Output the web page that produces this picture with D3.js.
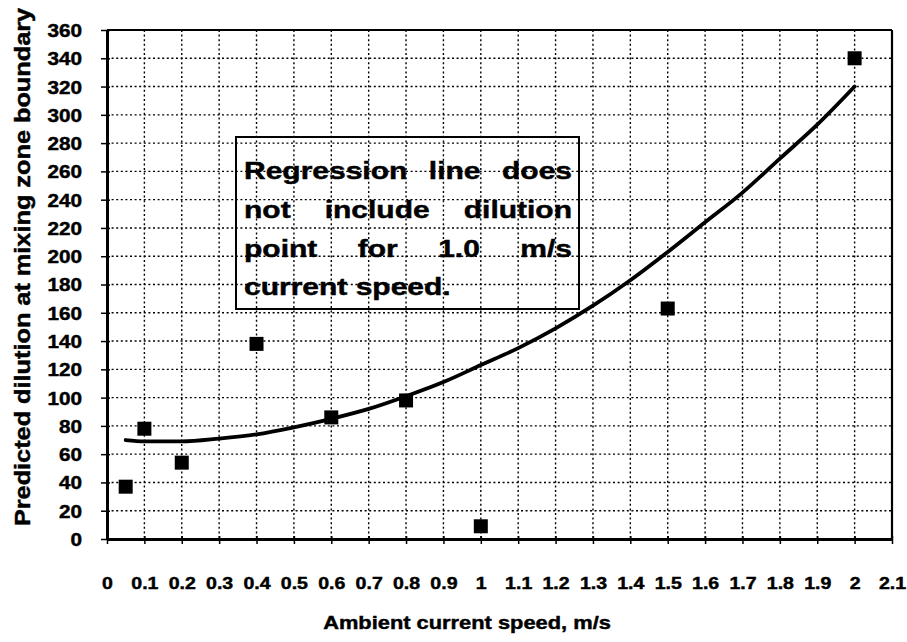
<!DOCTYPE html>
<html lang="en">
<head>
<meta charset="utf-8">
<style type="text/css">
    body { margin: 0; background: #fff; }
    svg { font-family: "Liberation Sans", Arial, sans-serif; font-weight: bold; }
    svg text { fill: #000; stroke: #000; stroke-width: 0.45px; }
    .grid line { stroke: #000; stroke-width: 1.4px; stroke-dasharray: 2,2.6; }
    .axis path, .axis line { stroke: #000; }
    .axis text { font-weight: bold; font-family: "Liberation Sans", Arial, sans-serif; }
</style>
</head>
<body>
<svg width="907" height="642"></svg>
<script src="https://d3js.org/d3.v7.min.js"></script>
<script type="text/javascript">

// ticks
var xTicks = [0, 0.1, 0.2, 0.3, 0.4, 0.5, 0.6, 0.7, 0.8, 0.9, 1, 1.1, 1.2, 1.3, 1.4, 1.5, 1.6, 1.7, 1.8, 1.9, 2, 2.1];
var yTicks = [0, 20, 40, 60, 80, 100, 120, 140, 160, 180, 200, 220, 240, 260, 280, 300, 320, 340, 360];

// measured points (speed, dilution)
var speeds    = [0.05, 0.1, 0.2, 0.4, 0.6, 0.8, 1.0, 1.5, 2.0];
var dilutions = [37, 78, 54, 138, 86, 98, 9, 163, 340];

// regression line
var lineX = [0.05, 0.1, 0.2, 0.3, 0.4, 0.5, 0.6, 0.7, 0.8, 0.9, 1.0, 1.1, 1.2, 1.3, 1.4, 1.5, 1.6, 1.7, 1.8, 1.9, 2.0];
var lineY = [70, 69, 69, 71, 74, 79, 85, 92, 101, 111, 123, 135, 149, 165, 183, 203, 224, 245, 269, 293, 320];

var noteLines = [
    ["Regression", "line", "does"],
    ["not", "include", "dilution"],
    ["point", "for", "1.0", "m/s"],
    ["current", "speed."]
];

var svg = d3.select("svg");
var mLeft = 107, mRight = 892, mTop = 30, mBottom = 539;
var sx = 1.15; // scanned type is a bit wide

var x = d3.scaleLinear().domain([0, 2.1]).range([mLeft, mRight]);
var y = d3.scaleLinear().domain([0, 360]).range([mBottom, mTop]);

// dotted grid
svg.append("g").attr("class", "grid")
    .selectAll("line").data(xTicks.slice(1, -1)).enter().append("line")
    .attr("x1", function (d) { return x(d); }).attr("x2", function (d) { return x(d); })
    .attr("y1", mTop).attr("y2", mBottom);
svg.append("g").attr("class", "grid")
    .selectAll("line").data(yTicks.slice(1, -1)).enter().append("line")
    .attr("x1", mLeft).attr("x2", mRight)
    .attr("y1", function (d) { return y(d); }).attr("y2", function (d) { return y(d); });

// frame top / right
svg.append("line").attr("x1", mLeft).attr("x2", mRight).attr("y1", mTop).attr("y2", mTop)
    .attr("stroke", "#000").attr("stroke-width", 2.2);
svg.append("line").attr("x1", mRight).attr("x2", mRight).attr("y1", mTop).attr("y2", mBottom)
    .attr("stroke", "#000").attr("stroke-width", 2.2);

// axes
var xAxis = svg.append("g").attr("class", "axis")
    .attr("transform", "translate(0," + mBottom + ")")
    .call(d3.axisBottom(x).tickValues(xTicks).tickSize(5).tickSizeOuter(0)
        .tickFormat(function (d) { return String(+d.toFixed(1)); }));
xAxis.select(".domain").attr("stroke-width", 3);
xAxis.selectAll(".tick line").attr("stroke-width", 1.5).attr("y1", -3);
xAxis.selectAll(".tick text").attr("y", 50).attr("dy", 0).attr("font-size", 17)
    .attr("transform", "scale(" + sx + ",1)");

var yAxis = svg.append("g").attr("class", "axis")
    .attr("transform", "translate(" + mLeft + ",0)")
    .call(d3.axisLeft(y).tickValues(yTicks).tickSize(6).tickSizeOuter(0));
yAxis.select(".domain").attr("stroke-width", 3);
yAxis.selectAll(".tick line").attr("stroke-width", 1.5).attr("x1", 3);
yAxis.selectAll(".tick text").attr("x", -25 / sx).attr("dy", "0.36em").attr("font-size", 18)
    .attr("transform", "scale(" + sx + ",1)");

// regression curve
var curve = d3.line()
    .x(function (d, i) { return x(lineX[i]); })
    .y(function (d) { return y(d); })
    .curve(d3.curveMonotoneX);
svg.append("path").datum(lineY)
    .attr("d", curve)
    .attr("fill", "none").attr("stroke", "#000")
    .attr("stroke-width", 3.8).attr("stroke-linecap", "round");

// square markers
var sq = 14;
svg.append("g").selectAll("rect").data(dilutions).enter().append("rect")
    .attr("x", function (d, i) { return x(speeds[i]) - sq / 2; })
    .attr("y", function (d) { return y(d) - sq / 2; })
    .attr("width", sq).attr("height", sq)
    .attr("fill", "#000");

// note box with justified text
var bx = 236, by = 137, bw = 343, bh = 172;
svg.append("rect").attr("x", bx).attr("y", by).attr("width", bw).attr("height", bh)
    .attr("fill", "none").attr("stroke", "#000").attr("stroke-width", 2);

var noteSx = 1.25, padL = 8, padR = 7, lineGap = 38.8, firstBase = 179;
noteLines.forEach(function (words, li) {
    var g = svg.append("g")
        .attr("transform", "translate(" + (bx + padL) + "," + (firstBase + li * lineGap) + ") scale(" + noteSx + ",1)");
    var texts = words.map(function (w) {
        return g.append("text").attr("font-size", 24).text(w);
    });
    var widths = texts.map(function (t) { return t.node().getComputedTextLength(); });
    var avail = (bw - padL - padR) / noteSx;
    var gap = (li === noteLines.length - 1) ? 6.7 : (avail - d3.sum(widths)) / (words.length - 1);
    var cx = 0;
    texts.forEach(function (t, i) { t.attr("x", cx); cx += widths[i] + gap; });
});

// axis titles
svg.append("text")
    .attr("transform", "translate(467,629) scale(" + sx + ",1)")
    .attr("text-anchor", "middle").attr("font-size", 19)
    .text("Ambient current speed, m/s");

svg.append("text")
    .attr("transform", "translate(30,267) rotate(-90) scale(" + sx + ",1)")
    .attr("text-anchor", "middle").attr("font-size", 22)
    .text("Predicted dilution at mixing zone boundary");

</script>
</body>
</html>
